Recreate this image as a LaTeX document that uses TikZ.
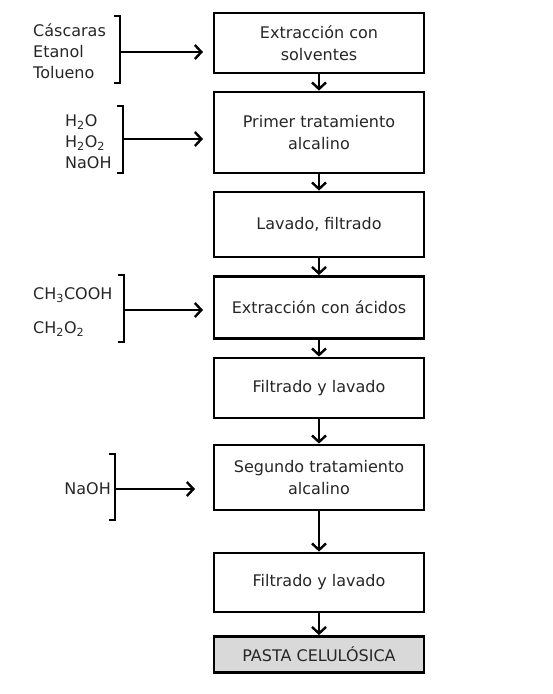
\documentclass[tikz,border=0pt]{standalone}
\usepackage{fontspec}
\setmainfont{DejaVu Sans}
\usetikzlibrary{arrows.meta}
\definecolor{texto}{HTML}{262626}
\definecolor{relleno}{HTML}{D9D9D9}

\begin{document}
\begin{tikzpicture}[x=1pt,y=-1pt,
    paso/.style={draw, line width=2.8pt, minimum width=210pt, align=center, text=texto, font=\fontsize{16}{22}\selectfont, inner sep=2pt},
    flecha/.style={line width=2.4pt, -{Straight Barb[length=6.5pt,width=14pt]}},
    llave/.style={line width=2.6pt},
    reactivo/.style={text=texto, font=\fontsize{16}{21}\selectfont, align=left, inner sep=0pt}]
  \useasboundingbox (0,0) rectangle (552,694);

  % etapas del proceso
  \node[paso, minimum height=60pt] (ext) at (319,43) {Extracción con\\solventes};
  \node[paso, minimum height=81pt] (alc1) at (319,132.5) {Primer tratamiento\\alcalino};
  \node[paso, minimum height=65pt] (lav1) at (319,224.5) {Lavado, filtrado};
  \node[paso, minimum height=62pt] (acid) at (319,307.5) {Extracción con ácidos};
  \node[paso, minimum height=60pt] (fil1) at (319,388) {Filtrado y lavado};
  \node[paso, minimum height=65pt] (alc2) at (319,477.5) {Segundo tratamiento\\alcalino};
  \node[paso, minimum height=59pt] (fil2) at (319,582.5) {Filtrado y lavado};
  \node[paso, minimum height=36pt, fill=relleno] (pasta) at (319,654.5) {PASTA CELULÓSICA};

  \draw[flecha] (ext) -- (alc1);
  \draw[flecha] (alc1) -- (lav1);
  \draw[flecha] (lav1) -- (acid);
  \draw[flecha] (acid) -- (fil1);
  \draw[flecha] (fil1) -- (alc2);
  \draw[flecha] (alc2) -- (fil2);
  \draw[flecha] (fil2) -- (pasta);

  % reactivos
  \node[reactivo, anchor=west] (r1) at (33,51) {Cáscaras\\Etanol\\Tolueno};
  \node[reactivo, anchor=west] (r2) at (65,142) {H\textsubscript{2}O\\H\textsubscript{2}O\textsubscript{2}\\NaOH};
  \node[reactivo, anchor=west] (r3a) at (33,295) {CH\textsubscript{3}COOH};
  \node[reactivo, anchor=west] (r3b) at (33,329) {CH\textsubscript{2}O\textsubscript{2}};
  \node[reactivo, anchor=east] (r4) at (111,489) {NaOH};

  \foreach \x/\ya/\yb in {120/16/83, 123/106/173, 124/275/342, 115/454/520}
    \draw[llave] (\x-6,\ya) -- (\x,\ya) -- (\x,\yb) -- (\x-6,\yb);

  \coordinate (l1) at (120,52);   \coordinate (e1) at (203,52);
  \coordinate (l2) at (123,139);  \coordinate (e2) at (203,139);
  \coordinate (l3) at (124,310);  \coordinate (e3) at (203,310);
  \coordinate (l4) at (115,489);  \coordinate (e4) at (195,489);
  \foreach \i in {1,...,4}
    \draw[flecha] (l\i) -- (e\i);
\end{tikzpicture}
\end{document}
